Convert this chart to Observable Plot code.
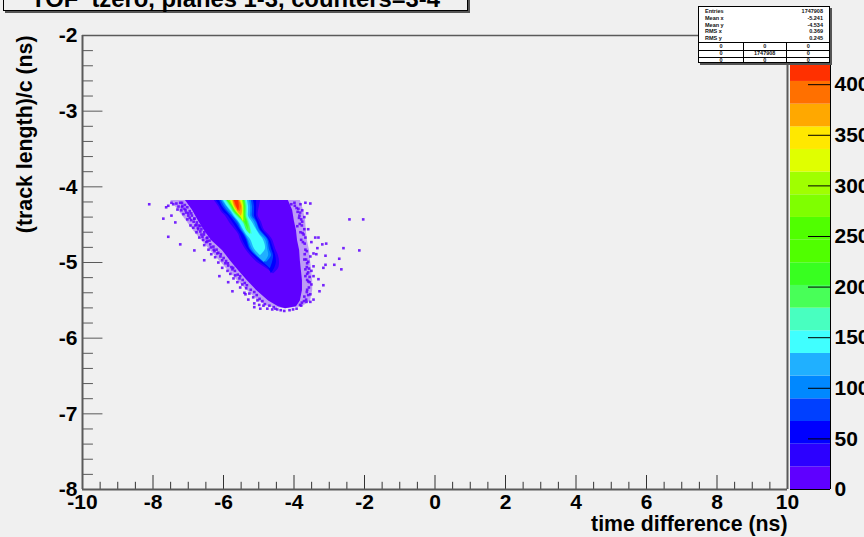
<!DOCTYPE html>
<html><head><meta charset="utf-8">
<script src="https://cdn.jsdelivr.net/npm/d3@7"></script>
<script src="https://cdn.jsdelivr.net/npm/@observablehq/plot@0.6"></script>
<style>
html,body{margin:0;padding:0;background:#f0f0f0;overflow:hidden}
#root{position:relative;width:864px;height:537px;overflow:hidden;background:#f0f0f0;font-family:"Liberation Sans",Arial,sans-serif}
#root svg{position:absolute;left:0;top:0;background:transparent!important}
#title{position:absolute;left:3px;top:-20px;width:465px;height:31px;box-sizing:border-box;background:#f0f0f0;border:1.5px solid #000;box-shadow:2px 2px 0 #555;font:bold 23.8px "Liberation Sans",Arial,sans-serif;text-align:center;line-height:36px;white-space:pre;color:#000}
#stats{position:absolute;left:698px;top:6px;width:132px;height:57px;box-sizing:border-box;background:#fff;border:1px solid #000;box-shadow:2px 2px 0 #555;font:bold 5.5px "Liberation Sans",Arial,sans-serif;color:#111}
#stats span{position:absolute;line-height:7px;white-space:nowrap}
#stats i{position:absolute;background:#000}
</style></head><body><div id="root"></div>
<script>
const titleText = "TOF  tzero, planes 1-3, counters=3-4";
const xLabel = "time difference (ns)";
const yLabel = "(track length)/c (ns)";
const statNames = ["Entries","Mean x","Mean y","RMS x","RMS y"];
const statValues = ["1747908","-5.241","-4.534","0.369","0.245"];
const statGrid = [["0","0","0"],["0","1747908","0"],["0","0","0"]];

// colour palette: one entry per z band (bottom to top)
const bandWidth = 22.4;
const bandColors = ["#5f00ff","#2c00ff","#0000ff","#0040ff","#0088ff","#20b0ff","#40ffff","#48ffc0","#48ff58","#38ff20","#50ff00","#50ff00","#7fff00","#a0ff00","#e0ff00","#ffe800","#ffa800","#ff7000","#ff3000","#ff0000"];
const thresholds = bandColors.slice(1).map((_, i) => (i + 1) * bandWidth);
const zTicks = [0,50,100,150,200,250,300,350,400];

const xMajor = [-10,-8,-6,-4,-2,0,2,4,6,8,10];
const xMinor = [-9.5,-9,-8.5,-7.5,-7,-6.5,-5.5,-5,-4.5,-3.5,-3,-2.5,-1.5,-1,-0.5,0.5,1,1.5,2.5,3,3.5,4.5,5,5.5,6.5,7,7.5,8.5,9,9.5];
const yMajor = [-2,-3,-4,-5,-6,-7,-8];
const yMinor = [-2.2,-2.4,-2.6,-2.8,-3.2,-3.4,-3.6,-3.8,-4.2,-4.4,-4.6,-4.8,-5.2,-5.4,-5.6,-5.8,-6.2,-6.4,-6.6,-6.8,-7.2,-7.4,-7.6,-7.8];

// outer edge of the solid populated region
const outerY = [-4.18,-4.31,-4.45,-4.58,-4.71,-4.84,-4.98,-5.11,-5.24,-5.37,-5.51,-5.585,-5.61];
const outerL = [-7.08,-6.88,-6.71,-6.54,-6.34,-6.03,-5.80,-5.57,-5.32,-5.06,-4.72,-4.44,-4.24];
const outerR = [-4.16,-4.04,-3.99,-3.93,-3.90,-3.84,-3.82,-3.79,-3.76,-3.76,-3.82,-3.93,-4.24];
// edge of the sparsely filled fringe around it
const fringeL = [-7.50,-7.28,-7.05,-6.85,-6.62,-6.37,-6.11,-5.86,-5.60,-5.32,-5.01,-4.72,-4.24];
const fringeR = [-3.82,-3.73,-3.67,-3.65,-3.62,-3.56,-3.53,-3.50,-3.47,-3.47,-3.53,-3.76,-4.24];

// level contours, read row by row
const rowY = [-4.18,-4.26,-4.33,-4.39,-4.47,-4.57,-4.63,-4.70,-4.82,-4.91,-5.00,-5.08,-5.15];
const l1L = [-6.26,-6.14,-6.06,-5.94,-5.83,-5.66,-5.57,-5.52,-5.38,-5.23,-5.04,-4.78,-4.58];
const l1R = [-4.95,-4.98,-5.01,-5.01,-4.92,-4.84,-4.72,-4.61,-4.52,-4.44,-4.41,-4.44,-4.58];
const l2L = [-6.20,-6.09,-6.00,-5.86,-5.74,-5.60,-5.52,-5.46,-5.32,-5.15,-4.95,-4.72,-4.64];
const l2R = [-5.06,-5.06,-5.06,-5.06,-4.98,-4.89,-4.78,-4.67,-4.58,-4.52,-4.50,-4.55,-4.64];
const l3L = [-6.11,-6.03,-5.91,-5.80,-5.66,-5.52,-5.43,-5.35,-5.26,-5.09,-4.87,-4.67];
const l3R = [-5.15,-5.12,-5.12,-5.12,-5.04,-4.95,-4.84,-4.72,-4.64,-4.58,-4.61,-4.67];
const l4L = [-6.06,-5.97,-5.86,-5.74,-5.60,-5.49,-5.40,-5.32,-5.23,-5.06,-4.78];
const l4R = [-5.21,-5.18,-5.18,-5.18,-5.06,-4.98,-4.87,-4.75,-4.70,-4.64,-4.78];
const l5L = [-6.03,-5.91,-5.80,-5.72,-5.57,-5.46,-5.38,-5.29,-5.18,-5.04,-4.84];
const l5R = [-5.26,-5.23,-5.23,-5.23,-5.12,-5.04,-4.95,-4.81,-4.75,-4.72,-4.84];
const l6L = [-6.00,-5.89,-5.77,-5.69,-5.55,-5.43,-5.35,-5.23,-5.12,-4.95];
const l6R = [-5.32,-5.29,-5.29,-5.29,-5.18,-5.06,-4.98,-4.87,-4.81,-4.95];
const l7L = [-5.94,-5.83,-5.74,-5.63,-5.46,-5.32,-5.18];
const l7R = [-5.35,-5.32,-5.32,-5.32,-5.26,-5.21,-5.18];
const l8L = [-5.91,-5.80,-5.72,-5.60,-5.43,-5.35,-5.23];
const l8R = [-5.38,-5.35,-5.35,-5.35,-5.29,-5.23,-5.23];
const l9L = [-5.89,-5.77,-5.69,-5.57,-5.40,-5.29];
const l9R = [-5.40,-5.38,-5.38,-5.38,-5.32,-5.29];
const l11L = [-5.86,-5.74,-5.66,-5.55,-5.38];
const l11R = [-5.43,-5.40,-5.40,-5.40,-5.38];
const l13L = [-5.80,-5.72,-5.63,-5.52,-5.43];
const l13R = [-5.46,-5.43,-5.43,-5.43,-5.43];
const l15L = [-5.74,-5.69,-5.60,-5.49];
const l15R = [-5.52,-5.46,-5.46,-5.49];
const l16L = [-5.72,-5.66,-5.52];
const l16R = [-5.55,-5.49,-5.52];
const l17L = [-5.69,-5.63,-5.57];
const l17R = [-5.57,-5.55,-5.57];

// isolated low-count bins around the edge
const speckX = [-8.13,-7.73,-7.59,-7.25,-6.85,-7.50,-7.39,-7.65,-7.59,-7.50,-7.45,-7.36,-7.30,-7.25,-7.19,-7.33,-7.22,-7.13,-7.08,-7.16,-7.02,-6.94,-7.05,-6.94,-6.85,-6.96,-6.79,-6.88,-6.74,-6.68,-6.79,-6.65,-6.57,-6.71,-6.60,-6.48,-6.51,-6.40,-6.57,-6.31,-6.45,-6.28,-6.37,-6.20,-6.26,-6.11,-6.06,-6.17,-5.97,-6.06,-5.89,-5.91,-5.77,-5.83,-5.69,-5.74,-5.57,-5.63,-5.49,-5.55,-5.38,-5.43,-5.29,-5.18,-5.32,-5.06,-5.01,-5.15,-4.89,-4.78,-4.64,-4.50,-4.98,-6.57,-6.14,-5.89,-5.77,-5.40,-5.15,
 -3.56,-3.70,-3.84,-4.01,-3.90,-3.79,-3.65,-3.73,-3.87,-3.79,-3.93,-3.73,-3.84,-3.62,-3.70,-3.82,-3.53,-3.42,-3.22,-3.11,-3.33,-3.36,-3.47,-3.39,-3.13,-2.74,-2.62,-2.17,-2.45,-2.06,-3.19,-2.88,-2.68,-3.56,-3.73,-3.65,-3.47,-3.70,-3.53,-3.47,-3.33,-3.19,-3.53,-3.30,-3.56,-3.47,-3.56,-3.82,-3.67,-3.73,-3.65,-3.62,-3.70,-3.65,-3.13,
 -7.20,-7.12,-7.20,-7.05,-7.10,-6.98,-7.02,-6.92,-6.98,-6.85,-6.87,-6.78,-6.82,-6.72,-6.75,-6.65,-6.68,-6.58,-6.62,-6.50,-6.48,-6.42,-6.38,-6.30,-6.22,-6.17,-6.10,-6.02,-5.95,-5.90,-5.80,-5.75,-5.70,-5.62,-5.55,-5.48,-5.42,-5.36,-5.25,-5.15,-5.08,-5.00,-4.92,-4.85,-4.72,-4.60,-4.55,-4.40,-4.30,-4.15,-4.05,-3.95,
 -4.10,-4.00,-3.95,-3.92,-3.85,-3.88,-3.82,-3.86,-3.80,-3.78,-3.75,-3.77,-3.72,-3.70,-3.66,-3.72,-3.68,-3.62,-3.66,-3.60,-3.62,-3.58,-3.65,-3.58,-3.60,-3.66,-3.62,-3.68,-3.74,-3.80,-3.85];
const speckY = [-4.22,-4.41,-4.65,-4.75,-4.83,-4.37,-4.46,-4.26,-4.24,-4.20,-4.22,-4.21,-4.25,-4.20,-4.24,-4.29,-4.30,-4.28,-4.33,-4.35,-4.37,-4.34,-4.42,-4.43,-4.41,-4.50,-4.49,-4.53,-4.55,-4.51,-4.59,-4.62,-4.59,-4.66,-4.69,-4.66,-4.72,-4.75,-4.76,-4.78,-4.82,-4.84,-4.88,-4.87,-4.92,-4.91,-4.96,-4.99,-5.00,-5.06,-5.03,-5.10,-5.08,-5.14,-5.16,-5.20,-5.20,-5.25,-5.28,-5.32,-5.33,-5.39,-5.40,-5.45,-5.48,-5.49,-5.55,-5.53,-5.56,-5.60,-5.61,-5.61,-5.60,-4.96,-5.17,-5.25,-5.37,-5.41,-5.58,
 -4.21,-4.20,-4.22,-4.20,-4.28,-4.30,-4.34,-4.39,-4.37,-4.45,-4.51,-4.55,-4.59,-4.55,-4.66,-4.69,-4.72,-4.66,-4.75,-4.74,-4.66,-4.80,-4.87,-4.88,-4.90,-4.94,-4.80,-4.83,-4.42,-4.42,-5.06,-5.02,-5.08,-4.91,-4.95,-5.00,-5.04,-5.08,-5.10,-5.17,-5.21,-5.29,-5.28,-5.37,-5.41,-5.48,-5.51,-5.56,-5.51,-5.44,-5.35,-5.24,-5.17,-5.14,-5.02,
 -4.20,-4.23,-4.26,-4.26,-4.30,-4.31,-4.34,-4.37,-4.40,-4.41,-4.45,-4.46,-4.50,-4.50,-4.53,-4.55,-4.58,-4.62,-4.65,-4.67,-4.71,-4.70,-4.79,-4.82,-4.82,-4.86,-4.88,-4.93,-4.97,-5.00,-5.05,-5.06,-5.10,-5.15,-5.17,-5.22,-5.26,-5.29,-5.35,-5.38,-5.42,-5.47,-5.50,-5.54,-5.56,-5.58,-5.60,-5.62,-5.63,-5.62,-5.61,-5.60,
 -4.22,-4.24,-4.27,-4.32,-4.33,-4.40,-4.42,-4.48,-4.50,-4.60,-4.62,-4.72,-4.74,-4.82,-4.84,-4.88,-4.95,-4.98,-5.05,-5.07,-5.12,-5.18,-5.22,-5.25,-5.32,-5.38,-5.42,-5.48,-5.50,-5.52,-5.55];

const zip = (ys, ls, rs) => ls.map((l, i) => ({y: ys[i], l, r: rs[i]}));
const contours = [
  [1,l1L,l1R],[2,l2L,l2R],[3,l3L,l3R],[4,l4L,l4R],[5,l5L,l5R],[6,l6L,l6R],[7,l7L,l7R],
  [8,l8L,l8R],[9,l9L,l9R],[12,l11L,l11R],[14,l13L,l13R],[16,l15L,l15R],[17,l16L,l16R],[18,l17L,l17R]
];
const colorScale = {type:"threshold", domain: thresholds, range: bandColors};
const axisGray = "#5a5a5a";
const fontBold = {fontFamily:'"Liberation Sans",Arial,sans-serif', fontWeight:"bold"};
const midOf = i => (i + 0.5) * bandWidth;
const speckles = speckX.map((x, i) => ({x, y: speckY[i]}));

const main = Plot.plot({
  width: 864, height: 537,
  marginLeft: 82, marginRight: 77, marginTop: 35, marginBottom: 48,
  style: {background:"transparent", overflow:"visible"},
  x: {domain:[-10,10], axis:null},
  y: {domain:[-8,-2], axis:null},
  color: colorScale,
  marks: [
    Plot.areaX(zip(outerY,fringeL,fringeR), {x1:"l", x2:"r", y:"y", fill:()=>midOf(0), fillOpacity:0.35, curve:"linear"}),
    Plot.rect(speckles, {x1:"x", x2:d=>d.x+0.075, y1:"y", y2:d=>d.y-0.034, fill:()=>midOf(0), fillOpacity:0.85}),
    Plot.areaX(zip(outerY,outerL,outerR), {x1:"l", x2:"r", y:"y", fill:()=>midOf(0), curve:"linear"}),
    ...contours.map(([lv,ls,rs]) => Plot.areaX(zip(rowY,ls,rs), {x1:"l", x2:"r", y:"y", fill:()=>midOf(lv), curve:"catmull-rom"})),
    Plot.ruleX(xMinor, {y1:-8, y2:-7.905, stroke:"#333", strokeWidth:1}),
    Plot.ruleX(xMajor, {y1:-8, y2:-7.815, stroke:"#333", strokeWidth:1}),
    Plot.ruleY(yMinor, {x1:-10, x2:-9.69, stroke:axisGray, strokeWidth:1}),
    Plot.ruleY(yMajor, {x1:-10, x2:-9.42, stroke:axisGray, strokeWidth:1}),
    Plot.ruleX([-10], {stroke:axisGray, strokeWidth:2}),
    Plot.ruleX([10], {stroke:axisGray, strokeWidth:2}),
    Plot.ruleY([-8], {stroke:axisGray, strokeWidth:2}),
    Plot.ruleY([-2], {stroke:axisGray, strokeWidth:1.5}),
    Plot.axisX({ticks:xMajor, tickSize:0, tickPadding:5, tickFormat:d=>String(d), fontSize:21, ...fontBold, fill:"#000", label:null, stroke:"none"}),
    Plot.axisY({ticks:yMajor, tickSize:0, tickPadding:5, tickFormat:d=>String(d), fontSize:21, ...fontBold, fill:"#000", label:null, stroke:"none"}),
    Plot.text([xLabel], {frameAnchor:"bottom-right", text:d=>d, dy:41, textAnchor:"end", fontSize:21.3, ...fontBold, fill:"#000"}),
    Plot.text([yLabel], {frameAnchor:"top-left", text:d=>d, dx:-57, rotate:-90, textAnchor:"end", lineAnchor:"middle", fontSize:21.3, ...fontBold, fill:"#000"})
  ]
});

const bands = bandColors.map((c, i) => ({lo:i*bandWidth, hi:(i+1)*bandWidth, mid:midOf(i)}));
const bar = Plot.plot({
  width: 864, height: 537,
  marginLeft: 790, marginRight: 34, marginTop: 35, marginBottom: 48,
  style: {background:"transparent", overflow:"visible"},
  x: {domain:[0,1], axis:null},
  y: {domain:[0,448.6], axis:null},
  color: colorScale,
  marks: [
    Plot.rectY(bands, {x1:0, x2:1, y1:"lo", y2:"hi", fill:"mid"}),
    Plot.ruleY(zTicks, {x1:0.45, x2:1, stroke:"#000", strokeWidth:1}),
    Plot.ruleX([1], {y1:0, y2:444, stroke:"#000", strokeWidth:1}),
    Plot.ruleY([0], {x1:0, x2:1, stroke:"#000", strokeWidth:1}),
    Plot.axisY({anchor:"right", ticks:zTicks, tickSize:0, tickPadding:4, tickFormat:d=>String(d), fontSize:21, ...fontBold, fill:"#000", label:null, stroke:"none"})
  ]
});

const root = document.getElementById("root");
root.append(main, bar);
const t = document.createElement("div"); t.id = "title"; t.textContent = titleText; root.append(t);

const s = document.createElement("div"); s.id = "stats";
const add = (tag, css, txt) => {const e = document.createElement(tag); e.style.cssText = css; if (txt != null) e.textContent = txt; s.append(e);};
statNames.forEach((n, i) => {
  add("span", `left:6px;top:${1 + i*6.8}px`, n);
  add("span", `right:6px;top:${1 + i*6.8}px`, statValues[i]);
});
[35, 42.5, 50].forEach(y => add("i", `left:0;right:0;top:${y}px;height:1px`));
[43.5, 87].forEach(x => add("i", `top:35px;bottom:0;left:${x}px;width:1px`));
statGrid.forEach((row, r) => row.forEach((v, c) => {
  add("span", `left:${c*43.7}px;width:44px;text-align:center;top:${35.5 + r*7.4}px`, v);
}));
root.append(s);
</script></body></html>
